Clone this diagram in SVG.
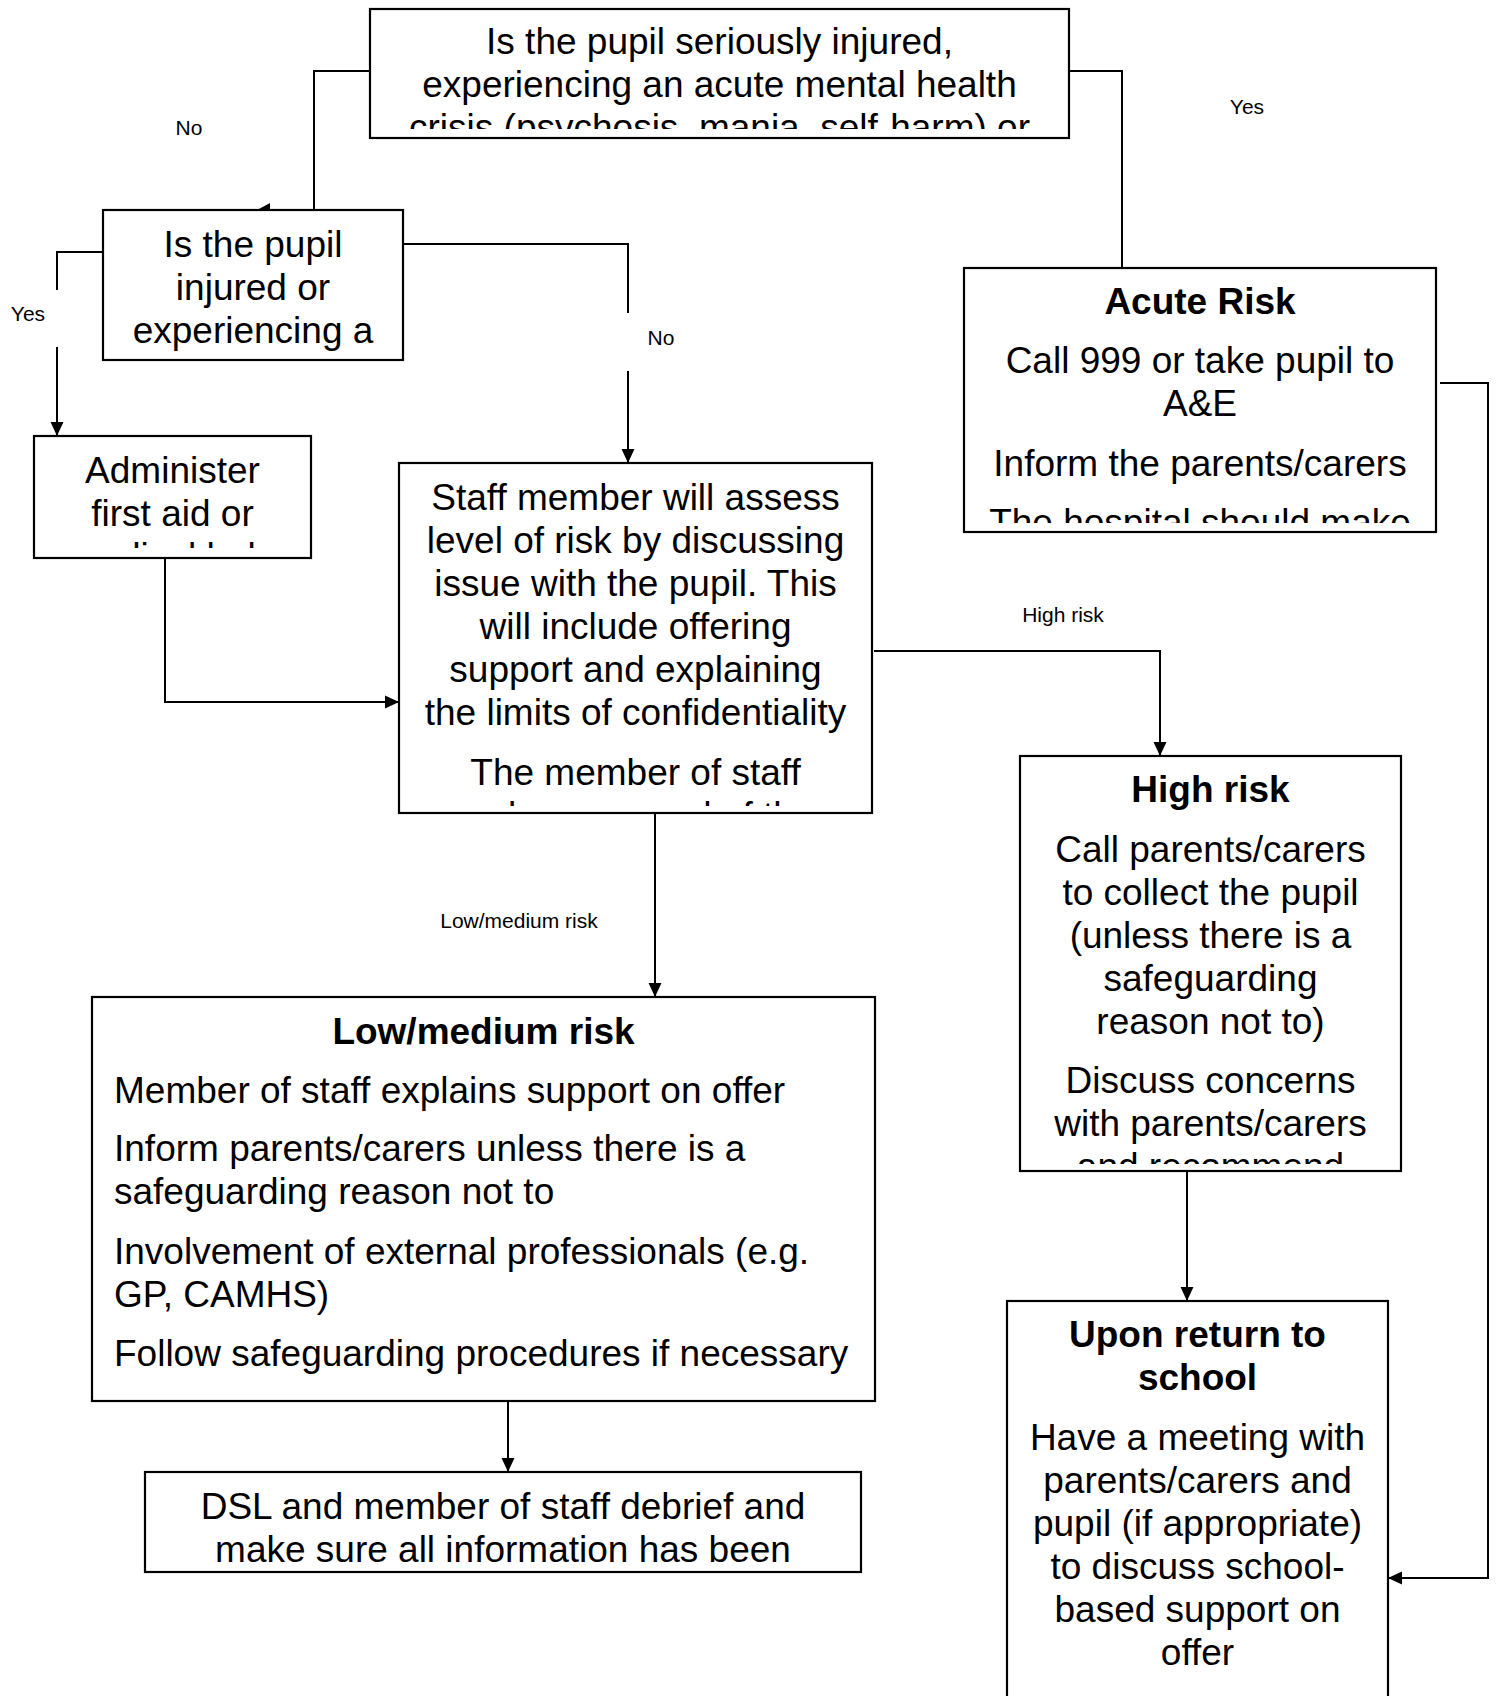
<svg xmlns="http://www.w3.org/2000/svg" width="1497" height="1696" viewBox="0 0 1497 1696">
<style>
.box{fill:#fff;stroke:#000;stroke-width:2.2}
.t{font-family:"Liberation Sans",Arial,sans-serif;font-size:37px;fill:#000;text-anchor:middle}
.tl{font-family:"Liberation Sans",Arial,sans-serif;font-size:37px;fill:#000}
.h{font-family:"Liberation Sans",Arial,sans-serif;font-size:37px;font-weight:bold;fill:#000;text-anchor:middle}
.lbl{font-family:"Liberation Sans",Arial,sans-serif;font-size:21px;fill:#000;text-anchor:middle}
.c{fill:none;stroke:#000;stroke-width:2}
</style>
<defs>
<marker id="arr" markerUnits="userSpaceOnUse" markerWidth="14" markerHeight="14" refX="13" refY="6" orient="auto" viewBox="0 0 13 12">
<path d="M0,0 L13,6 L0,12 z" fill="#000"/>
</marker>
<clipPath id="cTop"><rect x="372" y="11" width="695" height="118"/></clipPath>
<clipPath id="cQ2"><rect x="105" y="212" width="296" height="146"/></clipPath>
<clipPath id="cAdm"><rect x="36" y="438" width="273" height="110"/></clipPath>
<clipPath id="cStaff"><rect x="401" y="465" width="469" height="341"/></clipPath>
<clipPath id="cAcute"><rect x="966" y="270" width="468" height="253"/></clipPath>
<clipPath id="cHigh"><rect x="1022" y="758" width="377" height="406"/></clipPath>
<clipPath id="cDsl"><rect x="147" y="1474" width="712" height="96"/></clipPath>
</defs>

<g id="connectors">
<path class="c" d="M370,71 H314 V210"/>
<polygon points="257,210 270,203 270,210" fill="#000"/>
<path class="c" d="M1069,71 H1122 V268"/>
<path class="c" d="M109,252 H57 V290"/>
<path class="c" d="M57,347 V436" marker-end="url(#arr)"/>
<path class="c" d="M391,244 H628 V313"/>
<path class="c" d="M628,371 V463" marker-end="url(#arr)"/>
<path class="c" d="M165,557 V702 H399" marker-end="url(#arr)"/>
<path class="c" d="M874,651 H1160 V756" marker-end="url(#arr)"/>
<path class="c" d="M655,813 V997" marker-end="url(#arr)"/>
<path class="c" d="M508,1401 V1472" marker-end="url(#arr)"/>
<path class="c" d="M1187,1172 V1301" marker-end="url(#arr)"/>
<path class="c" d="M1440,383 H1488 V1578 H1388" marker-end="url(#arr)"/>
<text class="lbl" x="189" y="135">No</text>
<text class="lbl" x="1247" y="114">Yes</text>
<text class="lbl" x="28" y="321">Yes</text>
<text class="lbl" x="661" y="345">No</text>
<text class="lbl" x="1063" y="622">High risk</text>
<text class="lbl" x="519" y="928">Low/medium risk</text>
</g>

<g id="node-top">
<rect class="box" x="370" y="9" width="699" height="129"/>
<g clip-path="url(#cTop)">
<text class="t" x="719.5" y="54">Is the pupil seriously injured,</text>
<text class="t" x="719.5" y="97">experiencing an acute mental health</text>
<text class="t" x="719.5" y="140">crisis (psychosis, mania, self-harm) or</text>
</g>
</g>

<g id="node-injured">
<rect class="box" x="103" y="210" width="300" height="150"/>
<g clip-path="url(#cQ2)">
<text class="t" x="253" y="257">Is the pupil</text>
<text class="t" x="253" y="300">injured or</text>
<text class="t" x="253" y="343">experiencing a</text>
</g>
</g>

<g id="node-firstaid">
<rect class="box" x="34" y="436" width="277" height="122"/>
<g clip-path="url(#cAdm)">
<text class="t" x="172.5" y="483">Administer</text>
<text class="t" x="172.5" y="526">first aid or</text>
<text class="t" x="172.5" y="569">medical help</text>
</g>
</g>

<g id="node-assess">
<rect class="box" x="399" y="463" width="473" height="350"/>
<g clip-path="url(#cStaff)">
<text class="t" x="635.5" y="510">Staff member will assess</text>
<text class="t" x="635.5" y="553">level of risk by discussing</text>
<text class="t" x="635.5" y="596">issue with the pupil. This</text>
<text class="t" x="635.5" y="639">will include offering</text>
<text class="t" x="635.5" y="682">support and explaining</text>
<text class="t" x="635.5" y="725">the limits of confidentiality</text>
<text class="t" x="635.5" y="785">The member of staff</text>
<text class="t" x="635.5" y="828">makes a record of the</text>
</g>
</g>

<g id="node-acute">
<rect class="box" x="964" y="268" width="472" height="264"/>
<g clip-path="url(#cAcute)">
<text class="h" x="1200" y="314">Acute Risk</text>
<text class="t" x="1200" y="373">Call 999 or take pupil to</text>
<text class="t" x="1200" y="416">A&amp;E</text>
<text class="t" x="1200" y="476">Inform the parents/carers</text>
<text class="t" x="1200" y="535">The hospital should make</text>
</g>
</g>

<g id="node-high">
<rect class="box" x="1020" y="756" width="381" height="415"/>
<g clip-path="url(#cHigh)">
<text class="h" x="1210.5" y="802">High risk</text>
<text class="t" x="1210.5" y="862">Call parents/carers</text>
<text class="t" x="1210.5" y="905">to collect the pupil</text>
<text class="t" x="1210.5" y="948">(unless there is a</text>
<text class="t" x="1210.5" y="991">safeguarding</text>
<text class="t" x="1210.5" y="1034">reason not to)</text>
<text class="t" x="1210.5" y="1093">Discuss concerns</text>
<text class="t" x="1210.5" y="1136">with parents/carers</text>
<text class="t" x="1210.5" y="1179">and recommend</text>
</g>
</g>

<g id="node-low">
<rect class="box" x="92" y="997" width="783" height="404"/>
<text class="h" x="483.5" y="1044">Low/medium risk</text>
<text class="tl" x="114" y="1103">Member of staff explains support on offer</text>
<text class="tl" x="114" y="1161">Inform parents/carers unless there is a</text>
<text class="tl" x="114" y="1204">safeguarding reason not to</text>
<text class="tl" x="114" y="1264">Involvement of external professionals (e.g.</text>
<text class="tl" x="114" y="1307">GP, CAMHS)</text>
<text class="tl" x="114" y="1366">Follow safeguarding procedures if necessary</text>
</g>

<g id="node-debrief">
<rect class="box" x="145" y="1472" width="716" height="100"/>
<g clip-path="url(#cDsl)">
<text class="t" x="503" y="1519">DSL and member of staff debrief and</text>
<text class="t" x="503" y="1562">make sure all information has been</text>
</g>
</g>

<g id="node-return">
<rect class="box" x="1007" y="1301" width="381" height="420"/>
<text class="h" x="1197.5" y="1347">Upon return to</text>
<text class="h" x="1197.5" y="1390">school</text>
<text class="t" x="1197.5" y="1450">Have a meeting with</text>
<text class="t" x="1197.5" y="1493">parents/carers and</text>
<text class="t" x="1197.5" y="1536">pupil (if appropriate)</text>
<text class="t" x="1197.5" y="1579">to discuss school-</text>
<text class="t" x="1197.5" y="1622">based support on</text>
<text class="t" x="1197.5" y="1665">offer</text>
</g>
</svg>
